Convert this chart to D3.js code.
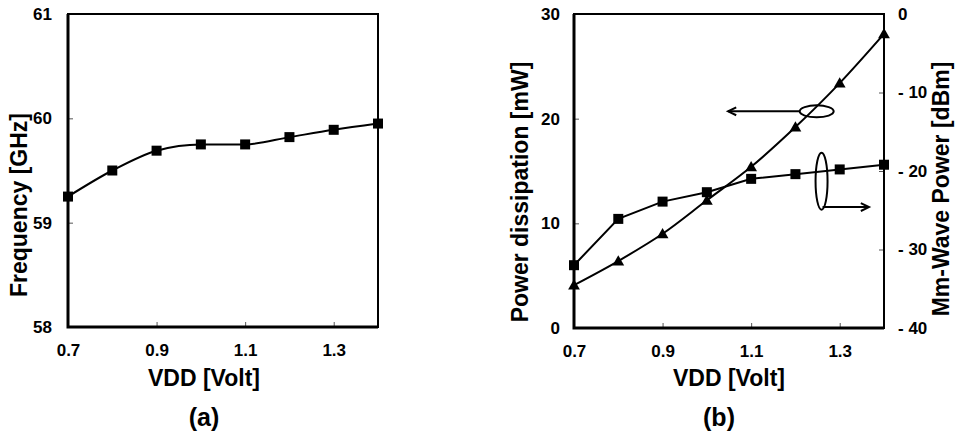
<!DOCTYPE html>
<meta charset="utf-8">
<style>
body { margin: 0; background: #fff; }
text { font-family: "Liberation Sans", Arial, sans-serif; font-weight: bold; fill: #000; }
.title { font-size: 23px; }
.panel { font-size: 25px; }
</style>
<body>
<script src="https://d3js.org/d3.v7.min.js"></script>
<script>
// VDD sweep (Volt)
var vdd = [0.7, 0.8, 0.9, 1.0, 1.1, 1.2, 1.3, 1.4];
// (a) oscillation frequency, GHz
var freq = [59.25, 59.50, 59.69, 59.75, 59.75, 59.82, 59.89, 59.95];
// (b) power dissipation, mW (triangles, left axis)
var pdiss = [4.1, 6.4, 9.0, 12.2, 15.4, 19.2, 23.4, 28.1];
// (b) mm-wave output power, dBm (squares, right axis)
var mmw = [-32.0, -26.1, -23.9, -22.7, -21.0, -20.4, -19.8, -19.2];

var xTicks = [0.7, 0.9, 1.1, 1.3];
var freqTicks = [58, 59, 60, 61];
var pdTicks = [0, 10, 20, 30];
var mmTicks = [-40, -30, -20, -10, 0];

var width = 956, height = 440;

var svg = d3.select("body").append("svg")
    .attr("width", width)
    .attr("height", height);

var fmt1 = d3.format(".1f");

function styleTicks(ax) {
  ax.select(".domain").remove();
  ax.selectAll("line").attr("stroke", "#555");
  ax.selectAll("text")
      .style("font-size", "17px")
      .style("font-weight", "bold")
      .style("font-family", "'Liberation Sans', Arial, sans-serif");
}

function frame(g, x, y) {
  var r = x.range(), t = y.range();
  g.append("rect")
      .attr("x", r[0]).attr("y", t[1])
      .attr("width", r[1] - r[0]).attr("height", t[0] - t[1])
      .attr("fill", "none").attr("stroke", "#000").attr("stroke-width", 2);
  // left + bottom heavier
  g.append("path")
      .attr("d", "M" + r[0] + "," + t[1] + "V" + t[0] + "H" + r[1])
      .attr("fill", "none").attr("stroke", "#000").attr("stroke-width", 3);
}

function xAxis(g, x, y) {
  var ax = g.append("g")
      .attr("transform", "translate(0," + y.range()[0] + ")")
      .call(d3.axisBottom(x).tickValues(xTicks).tickSize(-5).tickFormat(fmt1));
  styleTicks(ax);
  ax.selectAll("text").attr("dy", "0.35em").attr("y", 23);
}

function yAxis(g, x, y, ticks, fmt, pad) {
  var ax = g.append("g")
      .attr("transform", "translate(" + x.range()[0] + ",0)")
      .call(d3.axisLeft(y).tickValues(ticks).tickSize(-5).tickPadding(pad).tickFormat(fmt));
  styleTicks(ax);
}

function squares(g, x, y, vals) {
  g.selectAll(null).data(vals).enter().append("rect")
      .attr("x", function(d, i) { return x(vdd[i]) - 5; })
      .attr("y", function(d) { return y(d) - 5; })
      .attr("width", 10).attr("height", 10)
      .attr("fill", "#000");
}

function triangles(g, x, y, vals) {
  var sym = d3.symbol().type(d3.symbolTriangle).size(60);
  g.selectAll(null).data(vals).enter().append("path")
      .attr("d", sym)
      .attr("transform", function(d, i) { return "translate(" + x(vdd[i]) + "," + (y(d) + 1) + ")"; })
      .attr("fill", "#000");
}

function curve(g, x, y, vals, c) {
  var line = d3.line()
      .x(function(d, i) { return x(vdd[i]); })
      .y(function(d) { return y(d); })
      .curve(c);
  g.append("path").datum(vals)
      .attr("d", line)
      .attr("fill", "none").attr("stroke", "#000").attr("stroke-width", 2);
}

function arrow(g, x1, y1, x2, y2) {
  var a = Math.atan2(y2 - y1, x2 - x1), L = 9, w = 0.45;
  g.append("line")
      .attr("x1", x1).attr("y1", y1).attr("x2", x2).attr("y2", y2)
      .attr("stroke", "#000").attr("stroke-width", 2);
  g.append("path")
      .attr("d", "M" + (x2 - L * Math.cos(a - w)) + "," + (y2 - L * Math.sin(a - w)) +
                 "L" + x2 + "," + y2 +
                 "L" + (x2 - L * Math.cos(a + w)) + "," + (y2 - L * Math.sin(a + w)))
      .attr("fill", "none").attr("stroke", "#000").attr("stroke-width", 2);
}

// ---------- (a) ----------
var xa = d3.scaleLinear().domain([0.7, 1.4]).range([68, 378]);
var ya = d3.scaleLinear().domain([58, 61]).range([327, 14]);
var ga = svg.append("g");

yAxis(ga, xa, ya, freqTicks, d3.format("d"), 16);
xAxis(ga, xa, ya);
frame(ga, xa, ya);
curve(ga, xa, ya, freq, d3.curveMonotoneX);
squares(ga, xa, ya, freq);

ga.append("text").attr("class", "title")
    .attr("transform", "translate(27,205) rotate(-90)")
    .attr("text-anchor", "middle").text("Frequency [GHz]");
ga.append("text").attr("class", "title")
    .attr("x", 204).attr("y", 386).attr("text-anchor", "middle").text("VDD [Volt]");
ga.append("text").attr("class", "panel")
    .attr("x", 204).attr("y", 426).attr("text-anchor", "middle").text("(a)");

// ---------- (b) ----------
var xb = d3.scaleLinear().domain([0.7, 1.4]).range([574, 884]);
var yl = d3.scaleLinear().domain([0, 30]).range([328, 14]);
var yr = d3.scaleLinear().domain([-40, 0]).range([328, 14]);
var gb = svg.append("g");

yAxis(gb, xb, yl, pdTicks, d3.format("d"), 14);
var axR = gb.append("g")
    .attr("transform", "translate(" + xb.range()[1] + ",0)")
    .call(d3.axisRight(yr).tickValues(mmTicks).tickSize(-5).tickPadding(14)
      .tickFormat(function(d) { return d < 0 ? "- " + Math.abs(d) : d; }));
styleTicks(axR);
xAxis(gb, xb, yl);
frame(gb, xb, yl);

curve(gb, xb, yl, pdiss, d3.curveMonotoneX);
curve(gb, xb, yr, mmw, d3.curveLinear);
squares(gb, xb, yr, mmw);
triangles(gb, xb, yl, pdiss);

// legend ellipses with arrows pointing to the axis each series uses
var e1 = { x: 1.248, y: 20.7 }, e1to = 1.048;
gb.append("ellipse")
    .attr("cx", xb(e1.x)).attr("cy", yl(e1.y)).attr("rx", 17).attr("ry", 6)
    .attr("fill", "none").attr("stroke", "#000").attr("stroke-width", 2);
arrow(gb, xb(e1.x) - 17, yl(e1.y), xb(e1to), yl(e1.y));

var e2 = { x: 1.259, y: -21.3 }, e2arrow = -24.6, e2to = 1.366;
gb.append("ellipse")
    .attr("cx", xb(e2.x)).attr("cy", yr(e2.y)).attr("rx", 6).attr("ry", 28.5)
    .attr("fill", "none").attr("stroke", "#000").attr("stroke-width", 2);
arrow(gb, xb(e2.x) + 1, yr(e2arrow), xb(e2to), yr(e2arrow));

gb.append("text").attr("class", "title")
    .attr("transform", "translate(528,192) rotate(-90)")
    .attr("text-anchor", "middle").text("Power dissipation [mW]");
gb.append("text").attr("class", "title")
    .attr("transform", "translate(949,189) rotate(-90)")
    .attr("text-anchor", "middle").text("Mm-Wave Power [dBm]");
gb.append("text").attr("class", "title")
    .attr("x", 729).attr("y", 386).attr("text-anchor", "middle").text("VDD [Volt]");
gb.append("text").attr("class", "panel")
    .attr("x", 719).attr("y", 426).attr("text-anchor", "middle").text("(b)");
</script>
